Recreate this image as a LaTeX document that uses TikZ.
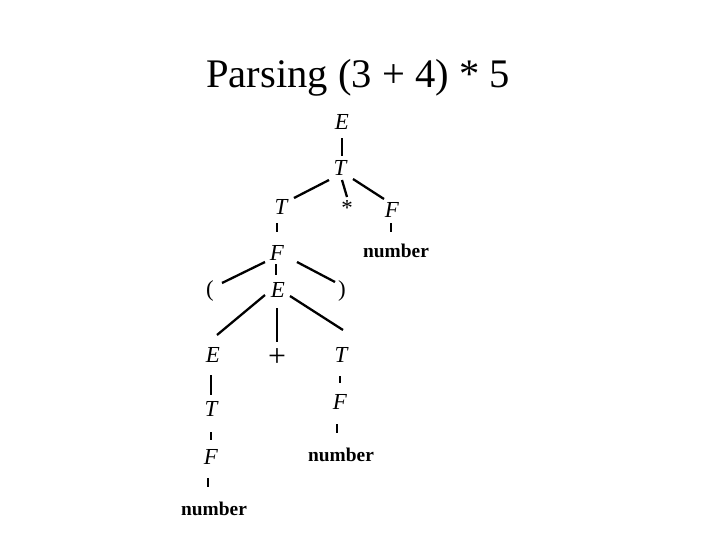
\documentclass[tikz,border=0pt]{standalone}
\usepackage{fontspec}
\setmainfont{Liberation Serif}
\usetikzlibrary{calc}

\begin{document}
\begin{tikzpicture}[x=0.567pt,y=-0.567pt,
    nt/.style={font=\fontsize{13}{15}\selectfont\itshape,inner sep=0pt},
    tm/.style={font=\fontsize{13}{15}\selectfont,inner sep=0pt},
    num/.style={font=\fontsize{11}{13}\selectfont\bfseries,inner sep=0pt},
    edge/.style={line width=1.3pt}]
  \useasboundingbox (0,0) rectangle (720,540);
  \node[font=\fontsize{23}{27}\selectfont,inner sep=0pt,anchor=base] (title) at (358,87) {Parsing (3 + 4) * 5};
  % tree nodes
  \node[nt] (E0) at (342,122) {E};
  \node[nt] (T0) at (340,168) {T};
  \node[nt] (T1) at (281,207) {T};
  \node[tm] (st) at (347,208) {*};
  \node[nt] (F1) at (392,210) {F};
  \node[nt] (F2) at (277,253) {F};
  \node[num] (n1) at (396,251) {number};
  \node[tm] (lp) at (210,291) {(};
  \node[nt] (E1) at (278,290) {E};
  \node[tm] (rp) at (342,291) {)};
  \node[nt] (E2) at (213,355) {E};
  \node[tm,font=\fontsize{18}{20}\selectfont] (pl) at (277,358) {+};
  \node[nt] (T2) at (341,355) {T};
  \node[nt] (T3) at (211,409) {T};
  \node[nt] (F4) at (340,402) {F};
  \node[nt] (F3) at (211,457) {F};
  \node[num] (n2) at (341,455) {number};
  \node[num] (n3) at (214,509) {number};
  % edges
  \draw[edge] ($(E0)+(0,16)$) -- ($(T0)+(2,-12)$);
  \draw[edge] ($(T0)+(-11,12)$) -- ($(T1)+(13,-9)$);
  \draw[edge] ($(T0)+(2,12)$) -- ($(st)+(0,-11)$);
  \draw[edge] ($(T0)+(13,11)$) -- ($(F1)+(-8,-11)$);
  \draw[edge] ($(T1)+(-4,16)$) -- ($(F2)+(0,-21)$);
  \draw[edge] ($(F1)+(-1,13)$) -- ($(n1)+(-5,-19)$);
  \draw[edge] ($(F2)+(-12,9)$) -- ($(lp)+(12,-8)$);
  \draw[edge] ($(F2)+(-1,11)$) -- ($(E1)+(-2,-15)$);
  \draw[edge] ($(F2)+(20,9)$) -- ($(rp)+(-7,-9)$);
  \draw[edge] ($(E1)+(-13,5)$) -- ($(E2)+(4,-20)$);
  \draw[edge] ($(E1)+(-1,18)$) -- ($(pl)+(0,-16)$);
  \draw[edge] ($(E1)+(12,6)$) -- ($(T2)+(2,-25)$);
  \draw[edge] ($(E2)+(-2,20)$) -- ($(T3)+(0,-14)$);
  \draw[edge] ($(T3)+(0,23)$) -- ($(F3)+(0,-17)$);
  \draw[edge] ($(F3)+(-3,21)$) -- ($(n3)+(-6,-22)$);
  \draw[edge] ($(T2)+(-1,21)$) -- ($(F4)+(0,-19)$);
  \draw[edge] ($(F4)+(-3,22)$) -- ($(n2)+(-4,-22)$);
\end{tikzpicture}
\end{document}
